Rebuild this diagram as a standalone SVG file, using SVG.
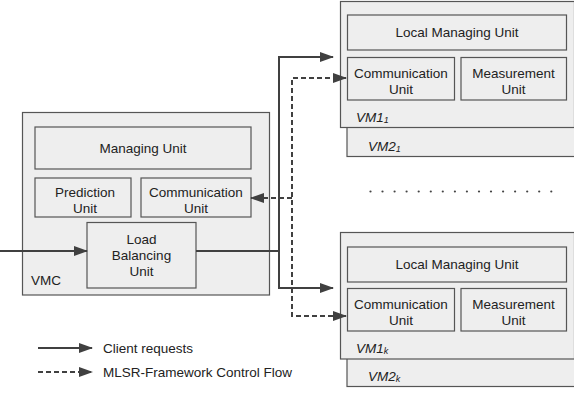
<svg xmlns="http://www.w3.org/2000/svg" width="574" height="397" viewBox="0 0 574 397">
<style>
.box{fill:#eeeeee;stroke:#555555;stroke-width:1.2}
.t{font-family:"Liberation Sans",Arial,sans-serif;font-size:13.5px;fill:#222222;text-anchor:middle}
.l{font-family:"Liberation Sans",Arial,sans-serif;font-size:13.5px;fill:#222222}
.it{font-style:italic}
.sub{font-size:9px}
.solid{fill:none;stroke:#404040;stroke-width:2}
.dash{fill:none;stroke:#404040;stroke-width:2;stroke-dasharray:5,3}
</style>
<defs>
<marker id="ah" markerWidth="14" markerHeight="10" refX="13" refY="5" orient="auto-start-reverse" markerUnits="userSpaceOnUse">
<path d="M0,0 L14,5 L0,10 Z" fill="#404040"/>
</marker>
</defs>
<rect width="574" height="397" fill="#ffffff"/>

<g id="vmc">
<rect class="box" x="22.5" y="112.5" width="247" height="182.5"/>
<text class="l" x="31" y="285">VMC</text>
</g>
<g id="managing-unit">
<rect class="box" x="35" y="127" width="216" height="42"/>
<text class="t" x="143" y="153">Managing Unit</text>
</g>
<g id="prediction-unit">
<rect class="box" x="35" y="178" width="96" height="39"/>
<text class="t" x="85" y="197">Prediction</text>
<text class="t" x="85" y="213">Unit</text>
</g>
<g id="vmc-communication-unit">
<rect class="box" x="141" y="178" width="110" height="39"/>
<text class="t" x="196" y="197">Communication</text>
<text class="t" x="196" y="213">Unit</text>
</g>
<g id="load-balancing-unit">
<rect class="box" x="87" y="222.5" width="109" height="65.5"/>
<text class="t" x="141.5" y="244">Load</text>
<text class="t" x="141.5" y="260">Balancing</text>
<text class="t" x="141.5" y="276">Unit</text>
</g>

<g id="vm2-1">
<rect class="box" x="347" y="20" width="228" height="136.5"/>
<text class="l it" x="368" y="151">VM2<tspan class="sub" dy="1">1</tspan></text>
</g>
<g id="vm1-1">
<rect class="box" x="340.5" y="1.5" width="234" height="126"/>
<text class="l it" x="356" y="122">VM1<tspan class="sub" dy="1">1</tspan></text>
</g>
<g id="local-managing-unit-1">
<rect class="box" x="347.5" y="15" width="219" height="35"/>
<text class="t" x="457" y="37">Local Managing Unit</text>
</g>
<g id="communication-unit-1">
<rect class="box" x="347.5" y="57.5" width="107" height="42.5"/>
<text class="t" x="401" y="78">Communication</text>
<text class="t" x="401" y="94">Unit</text>
</g>
<g id="measurement-unit-1">
<rect class="box" x="461" y="57.5" width="105.5" height="42.5"/>
<text class="t" x="513.5" y="78">Measurement</text>
<text class="t" x="513.5" y="94">Unit</text>
</g>

<g id="vm2-k">
<rect class="box" x="347" y="250" width="228" height="136.5"/>
<text class="l it" x="368" y="381">VM2<tspan class="sub" dy="1">k</tspan></text>
</g>
<g id="vm1-k">
<rect class="box" x="340.5" y="232.5" width="234" height="126.5"/>
<text class="l it" x="356" y="353">VM1<tspan class="sub" dy="1">k</tspan></text>
</g>
<g id="local-managing-unit-k">
<rect class="box" x="347.5" y="247" width="219" height="35"/>
<text class="t" x="457" y="269">Local Managing Unit</text>
</g>
<g id="communication-unit-k">
<rect class="box" x="347.5" y="288.5" width="107" height="42.5"/>
<text class="t" x="401" y="309">Communication</text>
<text class="t" x="401" y="325">Unit</text>
</g>
<g id="measurement-unit-k">
<rect class="box" x="461" y="288.5" width="105.5" height="42.5"/>
<text class="t" x="513.5" y="309">Measurement</text>
<text class="t" x="513.5" y="325">Unit</text>
</g>

<g id="ellipsis" fill="#444444">
<circle cx="370.5" cy="191.5" r="1.1"/><circle cx="382.5" cy="191.5" r="1.1"/><circle cx="394.6" cy="191.5" r="1.1"/><circle cx="406.6" cy="191.5" r="1.1"/><circle cx="418.7" cy="191.5" r="1.1"/><circle cx="430.8" cy="191.5" r="1.1"/><circle cx="442.8" cy="191.5" r="1.1"/><circle cx="454.9" cy="191.5" r="1.1"/><circle cx="466.9" cy="191.5" r="1.1"/><circle cx="479" cy="191.5" r="1.1"/><circle cx="491" cy="191.5" r="1.1"/><circle cx="503.1" cy="191.5" r="1.1"/><circle cx="515.1" cy="191.5" r="1.1"/><circle cx="527.2" cy="191.5" r="1.1"/><circle cx="539.2" cy="191.5" r="1.1"/><circle cx="551.3" cy="191.5" r="1.1"/>
</g>

<g id="connectors">
<path class="solid" d="M0,251 L87,251" marker-end="url(#ah)"/>
<path class="solid" d="M196,251 L279,251"/>
<path class="solid" d="M333,57 L279,57 L279,288 L333,288" marker-start="url(#ah)" marker-end="url(#ah)"/>
<path class="dash" d="M346,78 L292,78 L292,316 L346,316" marker-start="url(#ah)" marker-end="url(#ah)"/>
<path class="dash" d="M292,198 L251,198" marker-end="url(#ah)"/>
<path class="solid" d="M38,348 L92,348" marker-end="url(#ah)"/>
<path class="dash" d="M38,372 L92,372" marker-end="url(#ah)"/>
</g>
<g id="legend">
<text class="l" x="103" y="353">Client requests</text>
<text class="l" x="103" y="377">MLSR-Framework Control Flow</text>
</g>
</svg>
